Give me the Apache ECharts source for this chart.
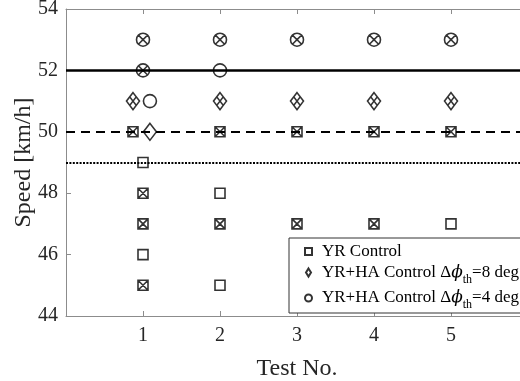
<!DOCTYPE html>
<html><head><meta charset="utf-8">
<script src="https://cdn.jsdelivr.net/npm/echarts@6/dist/echarts.min.js"></script>
<style>html,body{margin:0;padding:0;background:#fff}#chart{width:520px;height:381px}</style>
</head><body><div id="chart"></div>
<script>
// Top speed reached in each test run, per controller
const testTicks = [1, 2, 3, 4, 5];
const speedTicks = [44, 46, 48, 50, 52, 54];

// YR Control
const yrTest  = [1, 1, 1, 1, 1, 1, 2, 2, 2, 2, 3, 3, 4, 4, 5, 5];
const yrSpeed = [50, 49, 48, 47, 46, 45, 50, 48, 47, 45, 50, 47, 50, 47, 50, 47];
const yrSide  = [-1, 0, 0, 0, 0, 0, 0, 0, 0, 0, 0, 0, 0, 0, 0, 0];
const yrCross = [1, 0, 1, 1, 0, 1, 1, 0, 1, 0, 1, 1, 1, 1, 1, 0];

// YR+HA Control, threshold 8 deg
const ha8Test  = [1, 1, 2, 3, 4, 5];
const ha8Speed = [51, 50, 51, 51, 51, 51];
const ha8Side  = [-1, 1, 0, 0, 0, 0];
const ha8Cross = [1, 0, 1, 1, 1, 1];

// YR+HA Control, threshold 4 deg
const ha4Test  = [1, 1, 1, 2, 2, 3, 4, 5];
const ha4Speed = [53, 52, 51, 53, 52, 53, 53, 53];
const ha4Side  = [0, 0, 1, 0, 0, 0, 0, 0];
const ha4Cross = [1, 1, 0, 1, 0, 1, 1, 1];

// Reference speed levels
const refSpeeds = [52, 50, 49];

// ---- drawing ----
const FONT = "'Liberation Serif','Times New Roman',serif";
const NUDGE_LEFT = 0.13, NUDGE_RIGHT = 0.09;
const AXIS_GREY = '#8c8c8c';

const SQ  = 'path://M0,0H10V10H0Z';
const SQX = SQ + 'M0,0L10,10M10,0L0,10';
const DM  = 'path://M5,0L10,8L5,16L0,8Z';
const DMX = DM + 'M2.5,4L7.5,12M7.5,4L2.5,12';
const CI  = 'path://M10,0A10,10,0,1,1,10,20A10,10,0,1,1,10,0Z';
const CIX = CI + 'M2.93,2.93L17.07,17.07M17.07,2.93L2.93,17.07';

function points(test, speed, side, cross, plain, crossed) {
  return test.map((t, i) => ({
    value: [t + (side[i] < 0 ? -NUDGE_LEFT : side[i] > 0 ? NUDGE_RIGHT : 0), speed[i]],
    symbol: cross[i] ? crossed : plain
  }));
}

const markerStyle = { color: 'rgba(0,0,0,0)', borderColor: '#000', borderWidth: 1.6 };
const lineStyles = [
  { type: 'solid', width: 2.5 },
  { type: [9, 6], width: 2 },
  { type: [2, 1.4], width: 2 }
];

const chart = echarts.init(document.getElementById('chart'));
chart.setOption({
  animation: false,
  grid: { left: 66, top: 9, right: -8, bottom: 65, outerBoundsMode: 'none', containLabel: false },
  xAxis: [{
    type: 'value', min: 0, max: 6, interval: 1,
    name: 'Test No.', nameLocation: 'middle', nameGap: 41, nameMoveOverlap: false,
    nameTextStyle: { fontFamily: FONT, fontSize: 24, color: '#262626' },
    axisLine: { lineStyle: { color: AXIS_GREY, width: 1 } },
    axisTick: { inside: true, length: 5, lineStyle: { color: AXIS_GREY } },
    axisLabel: { fontFamily: FONT, fontSize: 20, color: '#262626', margin: 10,
      formatter: v => testTicks.includes(v) ? String(v) : '' },
    splitLine: { show: false }
  }, {
    type: 'value', min: 0, max: 6, interval: 1, position: 'top',
    axisLine: { lineStyle: { color: AXIS_GREY, width: 1 } },
    axisTick: { inside: true, length: 5, lineStyle: { color: AXIS_GREY } },
    axisLabel: { show: false }, splitLine: { show: false }
  }],
  yAxis: {
    type: 'value', min: speedTicks[0], max: speedTicks[speedTicks.length - 1], interval: 2,
    name: 'Speed [km/h]', nameLocation: 'middle', nameGap: 30, nameMoveOverlap: false,
    nameTextStyle: { fontFamily: FONT, fontSize: 24, color: '#262626' },
    axisLine: { show: true, lineStyle: { color: AXIS_GREY, width: 1 } },
    axisTick: { show: true, inside: true, length: 5, lineStyle: { color: AXIS_GREY } },
    axisLabel: { fontFamily: FONT, fontSize: 20, color: '#262626', margin: 8 },
    splitLine: { show: false }
  },
  legend: {
    orient: 'vertical', left: 289, top: 238,
    padding: [5, 40, 2, 15], itemGap: 4, itemWidth: 7, itemHeight: 8,
    borderColor: '#333', borderWidth: 1, backgroundColor: '#fff',
    selectedMode: false,
    itemStyle: { color: 'rgba(0,0,0,0)', borderColor: '#000', borderWidth: 2 },
    textStyle: {
      fontFamily: FONT, fontSize: 17, color: '#000', padding: [0, 0, 0, 5],
      rich: {
        p: { fontFamily: "'DejaVu Serif','Liberation Serif',serif", fontStyle: 'italic', fontSize: 17, color: '#000' },
        s: { fontFamily: FONT, fontSize: 12, color: '#000', padding: [14, 0, 0, 0] }
      }
    },
    data: [
      { name: 'YR Control', icon: SQ },
      { name: 'ha8', icon: DM },
      { name: 'ha4', icon: CI }
    ],
    formatter: n => n === 'ha8' ? 'YR+HA Control Δ{p|ϕ}{s|th}=8 deg'
                 : n === 'ha4' ? 'YR+HA Control Δ{p|ϕ}{s|th}=4 deg' : n
  },
  series: [
    {
      name: 'refs', type: 'scatter', data: [], z: 1,
      markLine: {
        silent: true, symbol: ['none', 'none'], label: { show: false },
        data: refSpeeds.map((v, i) => ({ yAxis: v, lineStyle: Object.assign({ color: '#000' }, lineStyles[i]) }))
      }
    },
    { name: 'YR Control', type: 'scatter', z: 3, symbolSize: 10, symbolKeepAspect: true,
      itemStyle: markerStyle, data: points(yrTest, yrSpeed, yrSide, yrCross, SQ, SQX) },
    { name: 'ha8', type: 'scatter', z: 3, symbolSize: [13, 17], symbolKeepAspect: false,
      itemStyle: markerStyle, data: points(ha8Test, ha8Speed, ha8Side, ha8Cross, DM, DMX) },
    { name: 'ha4', type: 'scatter', z: 3, symbolSize: 13, symbolKeepAspect: true,
      itemStyle: markerStyle, data: points(ha4Test, ha4Speed, ha4Side, ha4Cross, CI, CIX) }
  ]
});
</script>
</body></html>
